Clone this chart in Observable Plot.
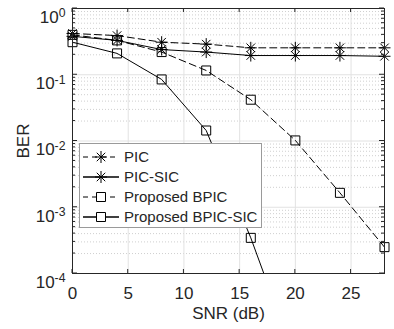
<!DOCTYPE html>
<html><head><meta charset="utf-8">
<script src="https://cdn.jsdelivr.net/npm/d3@7"></script>
<script src="https://cdn.jsdelivr.net/npm/@observablehq/plot@0.6"></script>
<style>body{margin:0;background:#fff} svg{display:block}</style>
</head><body><div id="chart"></div>
<script>
// ---- data ----
const snr = [0, 4, 8, 12, 16, 20, 24, 28];
const pic = [0.42, 0.39, 0.31, 0.29, 0.255, 0.255, 0.255, 0.255];
const picSic = [0.38, 0.33, 0.24, 0.22, 0.195, 0.195, 0.195, 0.19];
const bpic = [0.40, 0.33, 0.22, 0.116, 0.042, 0.0102, 0.00165, 0.00025];
const bpicSic = [0.31, 0.21, 0.085, 0.0144, 0.000345, 0.000005];
const seriesNames = ["PIC", "PIC-SIC", "Proposed BPIC", "Proposed BPIC-SIC"];
const seriesDashed = [true, false, true, false];
const seriesMarker = ["asterisk", "asterisk", "square", "square"];
const xTicks = [0, 5, 10, 15, 20, 25];
const yTicks = [1e-4, 1e-3, 1e-2, 1e-1, 1];

const allSeries = [pic, picSic, bpic, bpicSic];
const rows = [];
allSeries.forEach((vals, i) => vals.forEach((v, j) => rows.push({series: seriesNames[i], idx: i, snr: snr[j], ber: v})));
const yMinor = [];
for (let k = -4; k < 0; k++) for (let m = 2; m <= 9; m++) yMinor.push(m * Math.pow(10, k));

// MATLAB-like markers
const asterisk = {draw(ctx, size) {
  const r = Math.sqrt(size / Math.PI), c = r * Math.SQRT1_2;
  ctx.moveTo(0, -r); ctx.lineTo(0, r);
  ctx.moveTo(-r, 0); ctx.lineTo(r, 0);
  ctx.moveTo(-c, -c); ctx.lineTo(c, c);
  ctx.moveTo(-c, c); ctx.lineTo(c, -c);
}};
const square = {draw(ctx, size) {
  const r = Math.sqrt(size / Math.PI);
  ctx.moveTo(-r, -r); ctx.lineTo(r, -r); ctx.lineTo(r, r); ctx.lineTo(-r, r); ctx.closePath();
}};
const symbols = {asterisk, square};
const symR = {asterisk: 6, square: 4.5};
const DASH = "7,4";
const AX = "#262626";
const FONT = "'Liberation Sans', Arial, sans-serif";

const seriesMarks = [];
seriesNames.forEach((name, i) => {
  const data = rows.filter(d => d.idx === i);
  seriesMarks.push(Plot.line(data, {x: "snr", y: "ber", stroke: "black", strokeWidth: 1,
    strokeDasharray: seriesDashed[i] ? DASH : null, clip: true}));
  seriesMarks.push(Plot.dot(data, {x: "snr", y: "ber", filter: d => d.ber >= 1e-4,
    symbol: symbols[seriesMarker[i]], r: symR[seriesMarker[i]], stroke: "black", fill: "none", strokeWidth: 1}));
});

const plot = Plot.plot({
  width: 394, height: 329,
  marginLeft: 72, marginRight: 10, marginTop: 8, marginBottom: 56,
  style: {fontFamily: FONT, fontSize: "17px", color: AX, background: "#fff"},
  x: {domain: [0, 28]},
  y: {type: "log", domain: [1e-4, 1]},
  marks: [
    Plot.ruleY(yMinor, {stroke: "#cfcfcf", strokeDasharray: "1,2"}),
    Plot.ruleX(xTicks.filter(d => d > 0), {stroke: "#e2e2e2"}),
    Plot.ruleY(yTicks, {stroke: "#e2e2e2"}),
    ...seriesMarks,
    Plot.frame({stroke: AX}),
    Plot.axisX({ticks: xTicks, tickSize: 0, tickPadding: 13, fontSize: 17, label: null}),
    Plot.axisY({ticks: yTicks, tickSize: 0, tickPadding: 7, fontSize: 17, label: null,
      tickFormat: d => "10^" + Math.round(Math.log10(d))}),
    Plot.text(["SNR (dB)"], {text: d => d, frameAnchor: "bottom", lineAnchor: "middle", textAnchor: "middle",
      dy: 40, fontSize: 17, fill: AX}),
    Plot.text(["BER"], {text: d => d, frameAnchor: "left", lineAnchor: "middle", textAnchor: "middle",
      dx: -49, rotate: -90, fontSize: 17, fill: AX})
  ]
});
document.getElementById("chart").appendChild(plot);

const svg = d3.select(plot);
const xs = plot.scale("x"), ys = plot.scale("y");
const X = v => xs.apply(v), Y = v => ys.apply(v);
const x0 = X(0), x1 = X(28), y0 = Y(1e-4), y1 = Y(1);

// superscript exponents on y tick labels
svg.selectAll('g[aria-label="y-axis tick label"] text').each(function() {
  const t = d3.select(this);
  const s = t.text();
  if (!s.includes("^")) return;
  const [base, exp] = s.split("^");
  t.text(null).attr("dy", "0.52em");
  t.append("tspan").text(base);
  t.append("tspan").attr("dy", "-0.45em").attr("font-size", "0.72em").text(exp);
});

// inward ticks (box on)
const tg = svg.append("g").attr("stroke", AX).attr("stroke-width", 1);
yTicks.forEach(v => {
  tg.append("line").attr("x1", x0).attr("x2", x0 + 5).attr("y1", Y(v)).attr("y2", Y(v));
  tg.append("line").attr("x1", x1).attr("x2", x1 - 5).attr("y1", Y(v)).attr("y2", Y(v));
});
yMinor.forEach(v => {
  tg.append("line").attr("x1", x0).attr("x2", x0 + 3).attr("y1", Y(v)).attr("y2", Y(v));
  tg.append("line").attr("x1", x1).attr("x2", x1 - 3).attr("y1", Y(v)).attr("y2", Y(v));
});
xTicks.forEach(v => {
  tg.append("line").attr("x1", X(v)).attr("x2", X(v)).attr("y1", y0).attr("y2", y0 - 4);
  tg.append("line").attr("x1", X(v)).attr("x2", X(v)).attr("y1", y1).attr("y2", y1 + 4);
});

// legend
const lg = svg.append("g").attr("font-family", FONT).attr("font-size", 15).attr("text-anchor", "start");
const lx = 79, ly = 143, lw = 182, lh = 84;
lg.append("rect").attr("x", lx + 0.5).attr("y", ly + 0.5).attr("width", lw).attr("height", lh)
  .attr("fill", "#fff").attr("stroke", "#9a9a9a").attr("stroke-width", 1);
seriesNames.forEach((name, i) => {
  const cy = ly + 14 + i * 20;
  lg.append("line").attr("x1", lx + 4).attr("x2", lx + 40).attr("y1", cy).attr("y2", cy)
    .attr("stroke", "black").attr("stroke-width", seriesDashed[i] ? 1 : 1.5)
    .attr("stroke-dasharray", seriesDashed[i] ? "5,4" : null);
  const m = seriesMarker[i], r = symR[m];
  lg.append("path").attr("d", d3.symbol(symbols[m], Math.PI * r * r)())
    .attr("transform", `translate(${lx + 22},${cy})`).attr("fill", "#fff")
    .attr("stroke", "black").attr("stroke-width", 1);
  lg.append("text").attr("x", lx + 45).attr("y", cy).attr("dy", "0.35em").attr("fill", AX)
    .attr("text-anchor", "start").text(name);
});
</script>
</body></html>
